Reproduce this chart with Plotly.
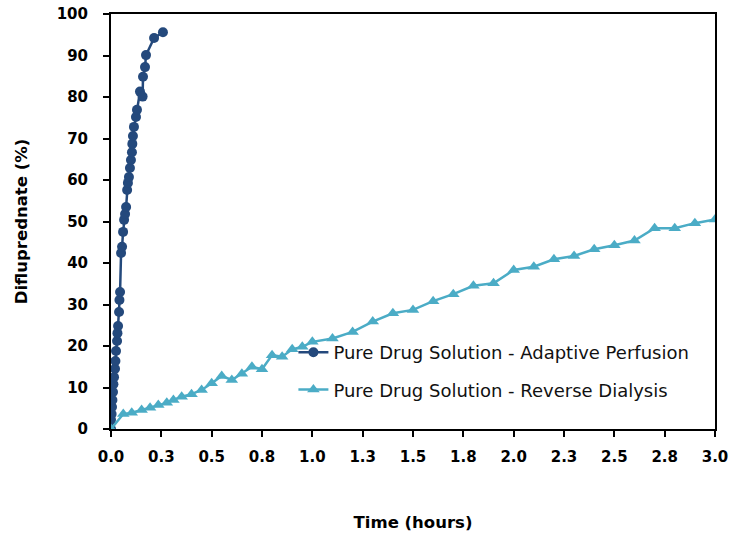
import plotly.graph_objects as go

# Pure Drug Solution - Adaptive Perfusion (time h, %)
ap_time = [0.0, 0.000, 0.003, 0.005, 0.007, 0.010, 0.012, 0.015, 0.020, 0.022, 0.025,
           0.030, 0.032, 0.035, 0.040, 0.042, 0.045, 0.050, 0.055, 0.060, 0.065,
           0.070, 0.075, 0.080, 0.084, 0.089, 0.094, 0.099, 0.104, 0.106, 0.109,
           0.114, 0.124, 0.129, 0.144, 0.157, 0.159, 0.169, 0.174, 0.214, 0.258]
ap_value = [0.0, 2.2, 3.6, 5.3, 7.0, 8.9, 10.8, 12.5, 14.5, 16.4, 18.8,
            21.2, 23.1, 24.8, 28.2, 31.1, 33.0, 42.4, 43.9, 47.5, 50.4,
            51.8, 53.5, 57.6, 59.3, 60.7, 62.9, 64.8, 66.7, 68.7, 70.6,
            72.8, 75.2, 76.9, 81.3, 80.1, 84.9, 87.2, 90.1, 94.2, 95.6]

# Pure Drug Solution - Reverse Dialysis (time h, %)
rd_time = [0.0, 0.061, 0.103, 0.152, 0.194, 0.235, 0.277, 0.31, 0.351, 0.40, 0.45,
           0.50, 0.55, 0.60, 0.65, 0.70, 0.75, 0.80, 0.85, 0.90, 0.95, 1.0,
           1.10, 1.20, 1.30, 1.40, 1.50, 1.60, 1.70, 1.80, 1.90, 2.0,
           2.10, 2.20, 2.30, 2.40, 2.50, 2.60, 2.70, 2.80, 2.90, 3.0]
rd_value = [0.0, 3.6, 3.9, 4.6, 5.1, 5.8, 6.3, 7.0, 7.8, 8.4, 9.4,
            11.0, 12.8, 11.8, 13.3, 15.0, 14.4, 17.8, 17.4, 19.2, 19.8, 21.0,
            21.8, 23.4, 25.9, 27.9, 28.7, 30.8, 32.5, 34.5, 35.1, 38.3,
            39.1, 40.9, 41.7, 43.3, 44.3, 45.4, 48.4, 48.4, 49.6, 50.5]

x_tickvals = [0, 0.25, 0.5, 0.75, 1.0, 1.25, 1.5, 1.75, 2.0, 2.25, 2.5, 2.75, 3.0]
x_ticktext = ["0.0", "0.3", "0.5", "0.8", "1.0", "1.3", "1.5", "1.8", "2.0", "2.3", "2.5", "2.8", "3.0"]
y_tickvals = [0, 10, 20, 30, 40, 50, 60, 70, 80, 90, 100]

dark = "#24497C"
light = "#4BACC6"

fig = go.Figure()
fig.add_trace(go.Scatter(
    x=ap_time, y=ap_value, mode="lines+markers",
    name="Pure Drug Solution - Adaptive Perfusion", legendgroup="a",
    line=dict(color=dark, width=2.5),
    marker=dict(symbol="circle", size=10, color=dark),
    cliponaxis=True,
))
fig.add_trace(go.Scatter(
    x=rd_time, y=rd_value, mode="lines+markers",
    name="Pure Drug Solution - Reverse Dialysis", legendgroup="b",
    line=dict(color=light, width=2.5),
    marker=dict(symbol="triangle-up", size=11, color=light),
    cliponaxis=True,
))

tick_font = dict(family="DejaVu Sans", size=15, color="#000000", weight="bold")
title_font = dict(family="DejaVu Sans", size=16.5, color="#000000", weight="bold")

fig.update_layout(
    width=732, height=533,
    margin=dict(l=111, r=17, t=14, b=104),
    paper_bgcolor="white", plot_bgcolor="white",
    font=dict(family="DejaVu Sans", color="#000000"),
    showlegend=True,
    legend=dict(
        x=0.302, y=0.229, xanchor="left", yanchor="top",
        bgcolor="rgba(0,0,0,0)", borderwidth=0,
        font=dict(family="DejaVu Sans", size=18, color="#111111"),
        traceorder="grouped", tracegroupgap=11,
        itemwidth=30,
    ),
    xaxis=dict(
        range=[0, 3.0], tickmode="array", tickvals=x_tickvals, ticktext=x_ticktext,
        showgrid=False, zeroline=False, automargin=False,
        showline=True, linecolor="#000000", linewidth=2, mirror=True,
        ticks="outside", ticklen=6, tickwidth=2, tickcolor="#000000",
        tickfont=tick_font, ticklabelstandoff=7,
        title=dict(text="Time (hours)", font=title_font, standoff=51),
    ),
    yaxis=dict(
        range=[0, 100], tickmode="array", tickvals=y_tickvals,
        showgrid=False, zeroline=False, automargin=False,
        showline=True, linecolor="#000000", linewidth=2, mirror=True,
        ticks="outside", ticklen=6, tickwidth=2, tickcolor="#000000",
        tickfont=tick_font, ticklabelstandoff=12,
        title=dict(text="Difluprednate (%)", font=title_font, standoff=25),
    ),
)

fig.write_html("out.html")
